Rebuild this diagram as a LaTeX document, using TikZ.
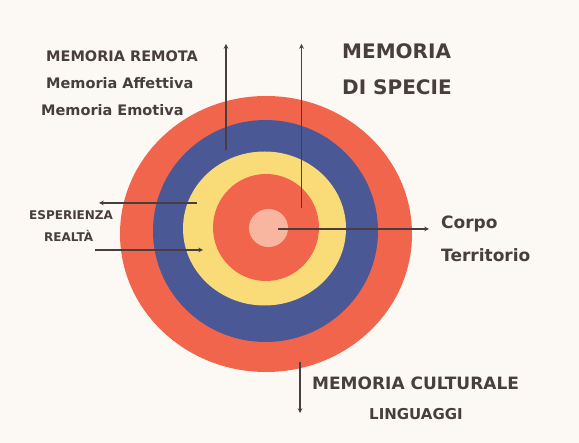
\documentclass[tikz,border=0pt]{standalone}
\usepackage{fontspec}
\setmainfont{DejaVu Sans}
\usepackage{tikz}
\usetikzlibrary{shapes, arrows, positioning, calc}

\definecolor{paper}{RGB}{252,248,244}
\definecolor{ringred}{RGB}{241,101,76}
\definecolor{ringblue}{RGB}{74,88,150}
\definecolor{ringyellow}{RGB}{249,220,120}
\definecolor{corepink}{RGB}{248,182,160}
\definecolor{ink}{RGB}{72,62,62}

\begin{document}
\begin{tikzpicture}[x=1pt, y=-1pt,
  ring/.style={ellipse, inner sep=0pt, draw=none},
  caption/.style={anchor=base west, text=ink, font=\bfseries\fontsize{#1}{#1}\selectfont, inner sep=0pt},
  arrow/.style={->, >=stealth, draw=ink, line width=1.1pt}
]
  \fill[paper] (0,0) rectangle (579,443);
  \useasboundingbox (0,0) rectangle (579,443);

  % rings, outside in
  \node[ring, fill=ringred, minimum width=292pt, minimum height=276pt] (outer) at (266,234) {};
  \node[ring, fill=ringblue, minimum width=225pt, minimum height=222pt] (blue) at (265.5,231) {};
  \node[ring, fill=ringyellow, minimum width=163pt, minimum height=154pt] (yellow) at (264.5,228.5) {};
  \node[ring, fill=ringred, minimum width=106pt, minimum height=107pt] (inner) at (266,227.5) {};
  \node[ring, fill=corepink, minimum width=39pt, minimum height=38pt] (core) at (268.5,228) {};

  % labels
  \node[caption=14.5] (remota) at (46,61.5) {MEMORIA REMOTA};
  \node[caption=14.5] (affettiva) at (46,89) {Memoria Affettiva};
  \node[caption=14.5] (emotiva) at (41,116) {Memoria Emotiva};
  \node[caption=20] (specie1) at (342,59) {MEMORIA};
  \node[caption=20] (specie2) at (342,95) {DI SPECIE};
  \node[caption=12] (esperienza) at (29,220) {ESPERIENZA};
  \node[caption=12] (realta) at (44,241.5) {REALTÀ};
  \node[caption=17] (corpo) at (441,229) {Corpo};
  \node[caption=17] (territorio) at (441,261.5) {Territorio};
  \node[caption=17] (culturale) at (312,390) {MEMORIA CULTURALE};
  \node[caption=15] (linguaggi) at (369,420) {LINGUAGGI};

  % arrow ends
  \coordinate (remotaS) at (226,150);
  \coordinate (remotaT) at (226,44);
  \coordinate (specieS) at (301.5,208);
  \coordinate (specieT) at (301.5,44);
  \coordinate (espS) at (197,203);
  \coordinate (espT) at (99,203);
  \coordinate (realS) at (95,250);
  \coordinate (realT) at (203,250);
  \coordinate (corpoS) at (278,229);
  \coordinate (corpoT) at (429,229);
  \coordinate (cultS) at (300,362);
  \coordinate (cultT) at (300,413);

  \draw[arrow] (remotaS) -- (remotaT);
  \draw[arrow] (specieS) -- (specieT);
  \draw[arrow] (espS) -- (espT);
  \draw[arrow] (realS) -- (realT);
  \draw[arrow] (corpoS) -- (corpoT);
  \draw[arrow] (cultS) -- (cultT);
\end{tikzpicture}
\end{document}
